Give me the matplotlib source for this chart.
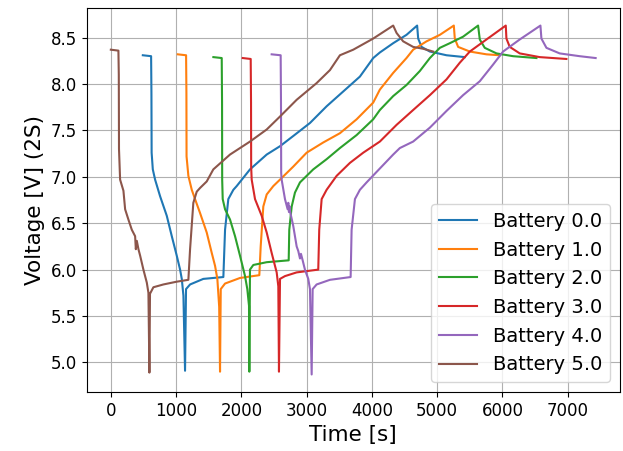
import matplotlib
matplotlib.use("Agg")
import matplotlib.pyplot as plt

# -------------------------------
# Cycle data per battery (time [s], pack voltage [V])
# -------------------------------
t_b0 = [490, 617, 622, 625, 643, 678, 755, 857, 934, 1010, 1061, 1087, 1112, 1137,
        1152, 1214, 1417, 1724, 1750, 1800, 1877, 1928, 2132, 2388, 2592, 2795,
        3051, 3306, 3561, 3816, 4020, 4122, 4326, 4530, 4693,
        4709, 4761, 4888, 5143, 5423]
v_b0 = [8.31, 8.30, 7.90, 7.26, 7.08, 6.97, 6.79, 6.58, 6.36, 6.15, 6.00, 5.90, 5.72, 4.91,
        5.79, 5.84, 5.90, 5.92, 6.43, 6.76, 6.86, 6.90, 7.08, 7.24, 7.33, 7.44,
        7.58, 7.76, 7.92, 8.08, 8.28, 8.34, 8.44, 8.53, 8.63,
        8.49, 8.40, 8.35, 8.31, 8.29]

t_b1 = [1026, 1153, 1158, 1160, 1188, 1240, 1290, 1367, 1469, 1546, 1597, 1632, 1660, 1673,
        1684, 1750, 1979, 2275, 2296, 2336, 2388, 2489, 2592, 2795, 3000, 3254,
        3510, 3766, 4020, 4122, 4326, 4530, 4632, 4837, 5041, 5255,
        5270, 5321, 5500, 5755, 5959]
v_b1 = [8.32, 8.31, 7.90, 7.22, 7.01, 6.86, 6.76, 6.61, 6.40, 6.18, 6.04, 5.90, 5.60, 4.90,
        5.79, 5.85, 5.91, 5.94, 6.25, 6.68, 6.81, 6.90, 6.97, 7.11, 7.26, 7.37,
        7.47, 7.62, 7.80, 7.94, 8.12, 8.28, 8.37, 8.46, 8.53, 8.63,
        8.49, 8.40, 8.35, 8.32, 8.31]

t_b2 = [1571, 1699, 1704, 1706, 1714, 1750, 1826, 1903, 1979, 2056, 2091, 2117, 2122,
        2132, 2183, 2388, 2725, 2734, 2771, 2821, 2898, 3101, 3306, 3510, 3766,
        4020, 4122, 4326, 4531, 4734, 4888, 5041, 5194, 5397, 5627,
        5653, 5729, 5909, 6163, 6521]
v_b2 = [8.29, 8.28, 7.80, 6.97, 6.76, 6.65, 6.54, 6.36, 6.15, 5.93, 5.79, 5.61, 4.90,
        6.00, 6.05, 6.08, 6.10, 6.43, 6.68, 6.83, 6.94, 7.08, 7.19, 7.31, 7.45,
        7.62, 7.72, 7.87, 7.99, 8.14, 8.28, 8.39, 8.44, 8.51, 8.63,
        8.48, 8.39, 8.33, 8.30, 8.28]

t_b3 = [2021, 2143, 2148, 2150, 2158, 2209, 2311, 2388, 2464, 2541, 2566, 2576,
        2592, 2668, 2847, 3178, 3193, 3230, 3306, 3459, 3663, 3867, 4122, 4378,
        4632, 4888, 5143, 5347, 5500, 5755, 6051,
        6061, 6112, 6265, 6571, 6980]
v_b3 = [8.28, 8.27, 7.80, 7.11, 6.97, 6.76, 6.58, 6.40, 6.18, 5.97, 5.82, 4.90,
        5.90, 5.93, 5.97, 6.00, 6.43, 6.76, 6.86, 7.01, 7.15, 7.26, 7.38, 7.56,
        7.72, 7.88, 8.05, 8.23, 8.35, 8.48, 8.63,
        8.49, 8.40, 8.33, 8.29, 8.27]

t_b4 = [2464, 2602, 2607, 2610, 2617, 2668, 2709, 2719, 2729, 2740, 2745, 2795, 2847,
        2872, 2898, 2913, 2939, 2974, 3025, 3051, 3077,
        3092, 3153, 3357, 3674, 3689, 3740, 3816, 3919, 4122, 4326, 4428,
        4632, 4888, 5143, 5397, 5653, 5857, 6010, 6265, 6582,
        6597, 6674, 6877, 7183, 7428]
v_b4 = [8.32, 8.31, 7.80, 7.04, 6.97, 6.76, 6.65, 6.72, 6.62, 6.68, 6.63, 6.47, 6.25,
        6.20, 6.12, 6.17, 6.10, 6.00, 5.90, 5.79, 4.87,
        5.79, 5.84, 5.89, 5.92, 6.43, 6.76, 6.86, 6.94, 7.09, 7.24, 7.31,
        7.38, 7.53, 7.71, 7.88, 8.03, 8.21, 8.35, 8.48, 8.63,
        8.49, 8.39, 8.33, 8.30, 8.28]

t_b5 = [0, 116, 122, 125, 142, 193, 219, 269, 321, 372, 383, 398, 423, 449, 499, 551, 576, 591,
        600, 652, 805, 1010, 1188, 1214, 1264, 1316, 1367, 1469, 1570, 1826, 2132,
        2388, 2592, 2847, 3153, 3357, 3510, 3714, 4020, 4326,
        4378, 4479, 4632, 4785, 4938]
v_b5 = [8.37, 8.36, 8.10, 7.30, 6.97, 6.85, 6.65, 6.54, 6.43, 6.36, 6.22, 6.31, 6.22, 6.15, 6.00, 5.86, 5.75, 4.89,
        5.74, 5.81, 5.84, 5.87, 5.89, 6.22, 6.72, 6.84, 6.88, 6.95, 7.08, 7.24, 7.38,
        7.51, 7.65, 7.83, 8.01, 8.15, 8.31, 8.37, 8.49, 8.63,
        8.55, 8.46, 8.40, 8.38, 8.35]

times = [t_b0, t_b1, t_b2, t_b3, t_b4, t_b5]
volts = [v_b0, v_b1, v_b2, v_b3, v_b4, v_b5]
battery_ids = [0.0, 1.0, 2.0, 3.0, 4.0, 5.0]

# -------------------------------
# Plot
# -------------------------------
fig = plt.figure(figsize=(6.23, 4.51), dpi=100)
ax = fig.add_subplot(111)
fig.subplots_adjust(left=0.139, right=0.995, top=0.982, bottom=0.131)

for bid, t, v in zip(battery_ids, times, volts):
    ax.plot(t, v, label=f"Battery {bid}")

ax.set_xlabel("Time [s]", fontsize=15.5)
ax.set_ylabel("Voltage [V] (2S)", fontsize=15.5)
ax.tick_params(labelsize=12)
ax.set_xticks([0, 1000, 2000, 3000, 4000, 5000, 6000, 7000])
ax.grid(True)
ax.legend(loc="lower right", fontsize=14)

fig.savefig("out.png", dpi=100)
